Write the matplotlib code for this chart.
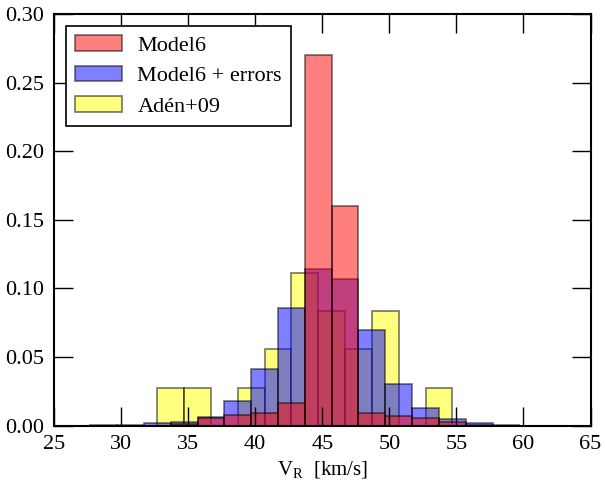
import numpy as np
import matplotlib
matplotlib.use("Agg")
import matplotlib.pyplot as plt

# ---- data ----
model_edges = [27.7, 29.7, 31.7, 33.7, 35.7, 37.7, 39.7, 41.7, 43.7, 45.7,
               47.7, 49.7, 51.7, 53.7, 55.7, 57.7, 59.7, 61.7, 63.7]
model6 = [0.0, 0.0, 0.0, 0.001, 0.0058, 0.0078, 0.009, 0.0163, 0.2704, 0.1604,
          0.009, 0.0071, 0.0054, 0.003, 0.0005, 0.0, 0.0, 0.0]
model6_err = [0.0005, 0.0005, 0.0017, 0.003, 0.0066, 0.0182, 0.041, 0.0856, 0.1142,
              0.1067, 0.0698, 0.0301, 0.0127, 0.0046, 0.0022, 0.0007, 0.0, 0.0]
aden_edges = [32.7, 34.7, 36.7, 38.7, 40.7, 42.7, 44.7, 46.7, 48.7, 50.7, 52.7, 54.7]
aden = [1/36, 1/36, 0.0, 1/36, 2/36, 4/36, 3/36, 2/36, 3/36, 0.0, 1/36]

labels = ["Model6", "Model6 + errors", "Ad\u00e9n+09"]
xticks = [25, 30, 35, 40, 45, 50, 55, 60, 65]
yticks = [0.00, 0.05, 0.10, 0.15, 0.20, 0.25, 0.30]

plt.rcParams['font.family'] = ['Liberation Serif', 'DejaVu Serif']
plt.rcParams['mathtext.fontset'] = 'custom'
plt.rcParams['mathtext.rm'] = 'Liberation Serif'
plt.rcParams['font.size'] = 16

fig = plt.figure(figsize=(6.05, 4.83), dpi=100)
ax = fig.add_axes([54/605, 1-425.7/483, (590.5-54)/605, (425.7-14)/483])

def draw(edges, heights, color, label, z):
    e = np.asarray(edges)
    ax.bar(e[:-1], heights, width=np.diff(e), align='edge', color=color,
           alpha=0.5, edgecolor='black', linewidth=1.3, label=label, zorder=z)

draw(model_edges, model6, (1, 0, 0), labels[0], 1.3)
draw(model_edges, model6_err, (0, 0, 1), labels[1], 1.2)
draw(aden_edges, aden, (1, 1, 0), labels[2], 1.1)

ax.set_xlim(25, 65)
ax.set_ylim(0, 0.30)
ax.set_xticks(xticks)
ax.set_yticks(yticks)
ax.set_yticklabels([f"{v:.2f}" for v in yticks])
ax.tick_params(direction='in', length=14, width=1, top=True, right=True, pad=7)
for s in ax.spines.values():
    s.set_linewidth(1.5)
ax.set_xlabel(r"V$_{\rm R}$  [km/s]", labelpad=4, fontsize=15)

leg = ax.legend(loc='upper left', fancybox=False, framealpha=1, edgecolor='black',
                handlelength=2.1, borderaxespad=0.55, labelspacing=0.45,
                handletextpad=0.7)
leg.get_frame().set_linewidth(1.2)

fig.savefig("out.png", dpi=100)
